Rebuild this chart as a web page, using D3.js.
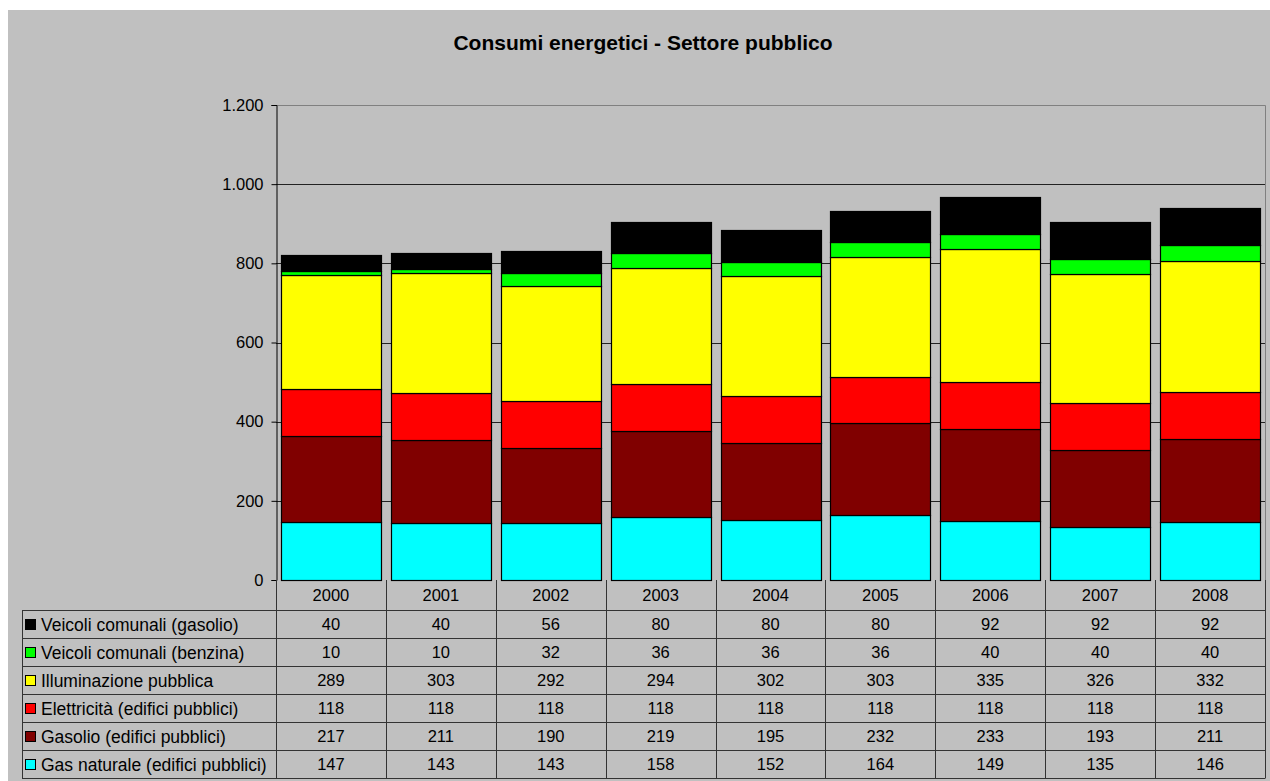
<!DOCTYPE html>
<html><head><meta charset="utf-8">
<script src="https://cdn.jsdelivr.net/npm/d3@7/dist/d3.min.js"></script>
<style>
html,body{margin:0;padding:0;background:#fff;}
svg{display:block;font-family:Arial,"Liberation Sans",sans-serif;}
</style></head><body>
<svg id="c" width="1270" height="781"></svg>
<script>
const years = ["2000","2001","2002","2003","2004","2005","2006","2007","2008"];
const seriesNames = ["Gas naturale (edifici pubblici)","Gasolio (edifici pubblici)","Elettricità (edifici pubblici)","Illuminazione pubblica","Veicoli comunali (benzina)","Veicoli comunali (gasolio)"];
const seriesColors = ["#00ffff","#800000","#ff0000","#ffff00","#00ff00","#000000"];
const gasNaturale = [147,143,143,158,152,164,149,135,146];
const gasolioEdifici = [217,211,190,219,195,232,233,193,211];
const elettricita = [118,118,118,118,118,118,118,118,118];
const illuminazione = [289,303,292,294,302,303,335,326,332];
const veicoliBenzina = [10,10,32,36,36,36,40,40,40];
const veicoliGasolio = [40,40,56,80,80,80,92,92,92];
const yTicks = [0,200,400,600,800,1000,1200];
const title = "Consumi energetici - Settore pubblico";

const seriesValues = [gasNaturale,gasolioEdifici,elettricita,illuminazione,veicoliBenzina,veicoliGasolio];
const rows = years.map((y,i)=>{const o={year:y}; seriesNames.forEach((s,k)=>o[s]=seriesValues[k][i]); return o;});
const stack = d3.stack().keys(seriesNames)(rows);

const svg = d3.select("#c");
svg.append("rect").attr("x",8).attr("y",10).attr("width",1262).attr("height",771).attr("fill","#c0c0c0");

const L=276,R=1265,T=105,B=580;
const x = d3.scaleBand().domain(years).range([L,R]).paddingInner(0.09).paddingOuter(0.045);
const y = d3.scaleLinear().domain([0,1200]).range([B,T]);
const loc = d3.formatLocale({decimal:",",thousands:".",grouping:[3],currency:["",""]});
const fmt = loc.format(",");

svg.append("text").attr("x",643).attr("y",50).attr("text-anchor","middle")
  .attr("font-weight","bold").attr("font-size",21).attr("fill","#000").text(title);

// plot border
svg.append("path").attr("d",`M${L},${T+0.5}H${R+0.5}V${B}`).attr("fill","none").attr("stroke","#808080").attr("stroke-width",1);
// gridlines
svg.append("g").selectAll("line").data(yTicks.filter(t=>t>0&&t<1200)).join("line")
  .attr("x1",L).attr("x2",R).attr("y1",d=>Math.round(y(d))+0.5).attr("y2",d=>Math.round(y(d))+0.5)
  .attr("stroke","#222").attr("stroke-width",1);

// bars
svg.append("g").selectAll("g").data(stack).join("g")
  .attr("fill",(d,i)=>seriesColors[i])
  .selectAll("rect").data(d=>d).join("rect")
  .attr("x",d=>Math.round(x(d.data.year))+0.5)
  .attr("width",Math.round(x.bandwidth()))
  .attr("y",d=>Math.round(y(d[1]))+0.5)
  .attr("height",d=>Math.round(y(d[0]))-Math.round(y(d[1])))
  .attr("stroke","#000").attr("stroke-width",1.2);

// y axis
const ya = svg.append("g").attr("transform",`translate(${L+0.5},0)`)
  .call(d3.axisLeft(y).tickValues(yTicks).tickFormat(fmt).tickSizeOuter(0).tickSize(5).tickPadding(8));
ya.select(".domain").attr("stroke","#000");
ya.selectAll(".tick line").attr("stroke","#000");
ya.selectAll("text").attr("font-size",16.5).attr("fill","#000").attr("font-family","Arial,'Liberation Sans',sans-serif");

// data table
const step = x.step();
const colLeft = yr => x(yr) - (step - x.bandwidth())/2;
const headTop = B, headBot = 610, tLeft = 22, tBot = 778;
const rowH = (tBot - headBot)/6;
const tableOrder = seriesNames.map((s,k)=>k).reverse();
const tg = svg.append("g");
const lc = "#333";
tg.selectAll("text.yr").data(years).join("text").attr("class","yr")
  .attr("x",d=>colLeft(d)+step/2).attr("y",(headTop+headBot)/2+6).attr("text-anchor","middle")
  .attr("font-size",16.5).attr("fill","#000").text(d=>d);
const hl = [headBot].concat(d3.range(1,7).map(i=>headBot+i*rowH));
tg.selectAll("line.h").data(hl).join("line").attr("class","h")
  .attr("x1",tLeft).attr("x2",R).attr("y1",d=>Math.round(d)+0.5).attr("y2",d=>Math.round(d)+0.5)
  .attr("stroke",lc);
const vl = years.map(colLeft).concat([R]);
tg.selectAll("line.v").data(vl).join("line").attr("class","v")
  .attr("x1",d=>Math.round(d)+0.5).attr("x2",d=>Math.round(d)+0.5).attr("y1",B).attr("y2",tBot+0.5)
  .attr("stroke",lc);
tg.append("line").attr("x1",tLeft+0.5).attr("x2",tLeft+0.5).attr("y1",headBot).attr("y2",tBot+0.5).attr("stroke",lc);
tableOrder.forEach((k,r)=>{
  const top = headBot + r*rowH, mid = top + rowH/2;
  tg.append("rect").attr("x",25.5).attr("y",Math.round(mid-5)+0.5).attr("width",10).attr("height",10)
    .attr("fill",seriesColors[k]).attr("stroke","#000");
  tg.append("text").attr("x",41).attr("y",mid+6.5).attr("font-size",17.5).attr("fill","#000").text(seriesNames[k]);
  tg.selectAll(null).data(years).join("text")
    .attr("x",d=>colLeft(d)+step/2).attr("y",mid+6).attr("text-anchor","middle")
    .attr("font-size",16.5).attr("fill","#000").text((d,i)=>seriesValues[k][i]);
});
</script></body></html>
